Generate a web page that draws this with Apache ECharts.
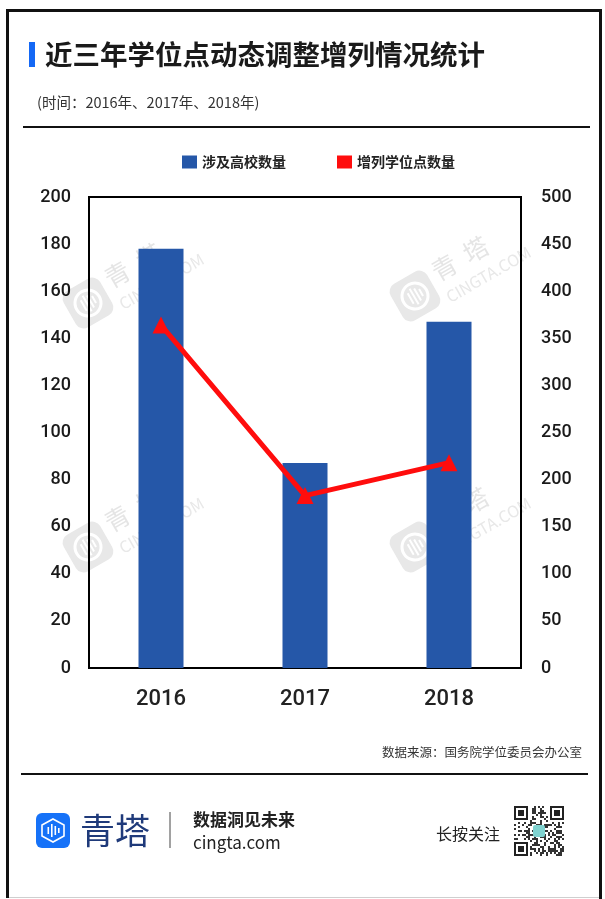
<!DOCTYPE html>
<html>
<head>
<meta charset="utf-8">
<script src="https://cdn.jsdelivr.net/npm/echarts@6/dist/echarts.min.js"></script>
<style>
  html, body { margin: 0; padding: 0; background: #fff; }
  #chart { width: 605px; height: 899px; }
</style>
</head>
<body>
<div id="chart"></div>
<script>
// Categories and values
const years = ['2016', '2017', '2018'];
const schoolCounts = [178, 87, 147];      // 涉及高校数量 (left axis)
const addedDegreePoints = [364, 183, 218]; // 增列学位点数量 (right axis)

const seriesNames = ['涉及高校数量', '增列学位点数量'];
const leftTicks = { min: 0, max: 200, interval: 20 };
const rightTicks = { min: 0, max: 500, interval: 50 };

const CJK = '"Noto Sans CJK SC", "Noto Sans", sans-serif';
const NUM = 'Roboto, "Noto Sans", sans-serif';
const BAR_BLUE = '#2557a8';
const LINE_RED = '#ff0d0d';

// Faint brand watermark: tilted icon + name + domain
function watermark(cx, cy) {
  return {
    type: 'group',
    x: cx, y: cy,
    rotation: Math.PI / 6,
    z: 0,
    silent: true,
    children: [
      { type: 'rect', shape: { x: -21, y: -21, width: 42, height: 42, r: 9 },
        style: { fill: '#e8e8e8' } },
      { type: 'circle', shape: { cx: 0, cy: 0, r: 13 },
        style: { fill: 'none', stroke: '#fff', lineWidth: 3 } },
      { type: 'rect', shape: { x: -6, y: -6, width: 2, height: 12 }, style: { fill: '#fff' } },
      { type: 'rect', shape: { x: -2, y: -9, width: 2, height: 18 }, style: { fill: '#fff' } },
      { type: 'rect', shape: { x: 2, y: -7, width: 2, height: 14 }, style: { fill: '#fff' } },
      { type: 'rect', shape: { x: 6, y: -4, width: 2, height: 8 }, style: { fill: '#fff' } },
      { type: 'text', x: 27, y: -10,
        style: { text: '青  塔', font: '25px ' + CJK, fill: '#e5e5e5',
                 verticalAlign: 'middle', align: 'left' } },
      { type: 'text', x: 27, y: 18,
        style: { text: 'CINGTA.COM', font: '16px ' + CJK, fill: '#e8e8e8',
                 verticalAlign: 'middle', align: 'left' } }
    ]
  };
}

// Small QR-style block pattern for the footer
function qrBlocks(x0, y0, size, n) {
  const cell = size / n;
  const out = [];
  const finder = (fx, fy) => {
    out.push({ type: 'rect', shape: { x: x0 + fx * cell, y: y0 + fy * cell, width: 7 * cell, height: 7 * cell },
               style: { fill: '#222' } });
    out.push({ type: 'rect', shape: { x: x0 + (fx + 1) * cell, y: y0 + (fy + 1) * cell, width: 5 * cell, height: 5 * cell },
               style: { fill: '#fff' } });
    out.push({ type: 'rect', shape: { x: x0 + (fx + 2) * cell, y: y0 + (fy + 2) * cell, width: 3 * cell, height: 3 * cell },
               style: { fill: '#222' } });
  };
  for (let i = 0; i < n; i++) {
    for (let j = 0; j < n; j++) {
      const inFinder = (i < 8 && j < 8) || (i >= n - 8 && j < 8) || (i < 8 && j >= n - 8);
      if (inFinder) continue;
      const h = ((i * 73856093) ^ (j * 19349663) ^ (i * j * 83492791)) >>> 0;
      if (h % 7 < 3) {
        out.push({ type: 'rect', shape: { x: x0 + i * cell, y: y0 + j * cell, width: cell, height: cell },
                   style: { fill: '#333' } });
      }
    }
  }
  finder(0, 0); finder(n - 7, 0); finder(0, n - 7);
  out.push({ type: 'rect', shape: { x: x0 + size / 2 - 6, y: y0 + size / 2 - 6, width: 12, height: 12, r: 2 },
             style: { fill: '#7fd3d0' } });
  return out;
}

const chart = echarts.init(document.getElementById('chart'), null, { renderer: 'canvas' });

const option = {
  backgroundColor: '#fff',
  animation: false,
  legend: {
    left: 177, top: 150,
    itemWidth: 15, itemHeight: 13, itemGap: 51,
    icon: 'rect',
    data: seriesNames,
    textStyle: { fontFamily: CJK, fontSize: 14, fontWeight: 'bold', color: '#222' }
  },
  grid: {
    left: 89, right: 84, top: 197, bottom: 231,
    show: true, borderColor: '#000', borderWidth: 2, backgroundColor: 'transparent'
  },
  xAxis: {
    type: 'category',
    data: years,
    axisLine: { show: true, lineStyle: { color: '#000', width: 2 } },
    axisTick: { show: false },
    axisLabel: { fontFamily: NUM, fontSize: 22, fontWeight: 500, color: '#222', margin: 20 },
    splitLine: { show: false }
  },
  yAxis: [
    {
      type: 'value', position: 'left',
      min: leftTicks.min, max: leftTicks.max, interval: leftTicks.interval,
      axisLine: { show: true, lineStyle: { color: '#000', width: 2 } },
      axisTick: { show: false },
      splitLine: { show: false },
      axisLabel: { fontFamily: NUM, fontSize: 18, fontWeight: 500, color: '#1a1a1a', margin: 18 }
    },
    {
      type: 'value', position: 'right',
      min: rightTicks.min, max: rightTicks.max, interval: rightTicks.interval,
      axisLine: { show: true, lineStyle: { color: '#000', width: 2 } },
      axisTick: { show: false },
      splitLine: { show: false },
      axisLabel: { fontFamily: NUM, fontSize: 18, fontWeight: 500, color: '#1a1a1a', margin: 20 }
    }
  ],
  series: [
    {
      name: seriesNames[0],
      type: 'bar',
      yAxisIndex: 0,
      data: schoolCounts,
      barWidth: 45,
      itemStyle: { color: BAR_BLUE },
      z: 2
    },
    {
      name: seriesNames[1],
      type: 'line',
      yAxisIndex: 1,
      data: addedDegreePoints,
      symbol: 'triangle',
      symbolSize: 17,
      lineStyle: { color: LINE_RED, width: 5 },
      itemStyle: { color: LINE_RED },
      z: 3
    }
  ],
  graphic: [
    // outer frame
    { type: 'line', shape: { x1: 7.5, y1: 9, x2: 7.5, y2: 898 }, style: { stroke: '#111', lineWidth: 3 } },
    { type: 'line', shape: { x1: 6, y1: 10.5, x2: 602, y2: 10.5 }, style: { stroke: '#111', lineWidth: 3 } },
    { type: 'line', shape: { x1: 600.5, y1: 9, x2: 600.5, y2: 899 }, style: { stroke: '#111', lineWidth: 3 } },
    { type: 'line', shape: { x1: 9, y1: 897.5, x2: 599, y2: 897.5 }, style: { stroke: '#cfcfcf', lineWidth: 1 } },

    // title
    { type: 'rect', shape: { x: 29, y: 42, width: 6, height: 25 }, style: { fill: '#1468f5' } },
    { type: 'text', x: 45, y: 55,
      style: { text: '近三年学位点动态调整增列情况统计', font: 'bold 27.5px ' + CJK, fill: '#1a1a1a',
               verticalAlign: 'middle' } },
    { type: 'text', x: 37, y: 102,
      style: { text: '(时间：2016年、2017年、2018年)', font: '14.5px ' + CJK, fill: '#333',
               verticalAlign: 'middle' } },
    { type: 'line', shape: { x1: 23, y1: 127, x2: 590, y2: 127 }, style: { stroke: '#111', lineWidth: 2 } },

    // watermarks
    watermark(88, 303),
    watermark(415, 296),
    watermark(88, 547),
    watermark(415, 547),

    // source + footer
    { type: 'text', x: 582, y: 752,
      style: { text: '数据来源：国务院学位委员会办公室', font: '12.5px ' + CJK, fill: '#333',
               align: 'right', verticalAlign: 'middle' } },
    { type: 'line', shape: { x1: 21, y1: 774, x2: 588, y2: 774 }, style: { stroke: '#111', lineWidth: 2 } },

    { type: 'rect', shape: { x: 36, y: 813, width: 34, height: 35, r: 6 }, style: { fill: '#1672f8' } },
    { type: 'polygon', shape: { points: [[53, 819], [64, 825], [64, 836], [53, 842], [42, 836], [42, 825]] },
      style: { fill: 'none', stroke: '#fff', lineWidth: 1.6 } },
    { type: 'rect', shape: { x: 47.5, y: 827, width: 1.6, height: 7 }, style: { fill: '#fff' } },
    { type: 'rect', shape: { x: 51, y: 824, width: 1.6, height: 13 }, style: { fill: '#fff' } },
    { type: 'rect', shape: { x: 54.5, y: 826, width: 1.6, height: 9 }, style: { fill: '#fff' } },
    { type: 'rect', shape: { x: 58, y: 828, width: 1.6, height: 5 }, style: { fill: '#fff' } },
    { type: 'text', x: 80, y: 831,
      style: { text: '青塔', font: '35px ' + CJK, fill: '#1f3a7a', verticalAlign: 'middle' } },
    { type: 'line', shape: { x1: 170, y1: 812, x2: 170, y2: 848 }, style: { stroke: '#444', lineWidth: 1 } },
    { type: 'text', x: 193, y: 820,
      style: { text: '数据洞见未来', font: 'bold 17px ' + CJK, fill: '#222', verticalAlign: 'middle' } },
    { type: 'text', x: 193, y: 843,
      style: { text: 'cingta.com', font: '17px ' + CJK, fill: '#222', verticalAlign: 'middle' } },
    { type: 'text', x: 436, y: 834,
      style: { text: '长按关注', font: '16px ' + CJK, fill: '#222', verticalAlign: 'middle' } },
    { type: 'group', silent: true, children: qrBlocks(514, 806, 50, 25) }
  ]
};

chart.setOption(option);
</script>
</body>
</html>
